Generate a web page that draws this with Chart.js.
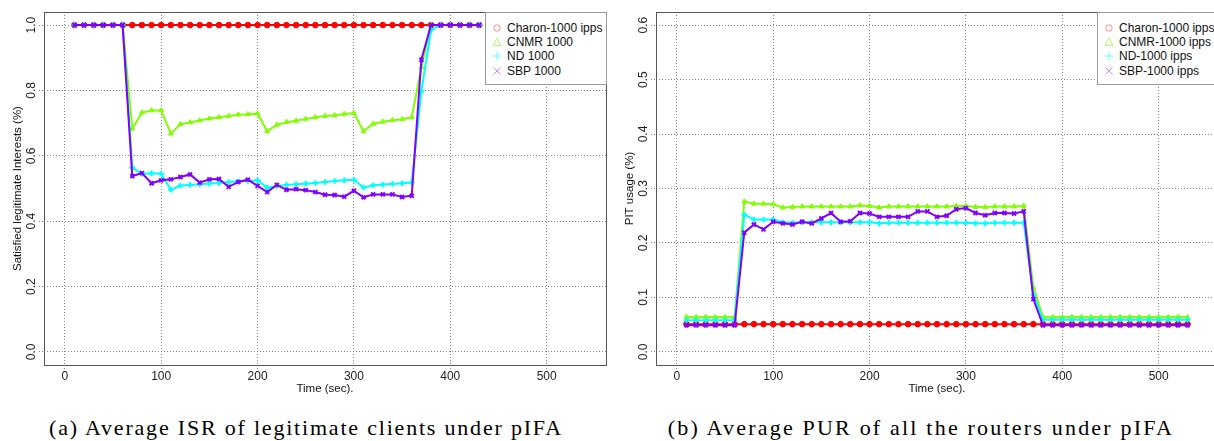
<!DOCTYPE html>
<html lang="en">

<head>
    <meta charset="UTF-8">
    <title>ISR and PUR under pIFA</title>
    <script src="https://cdn.jsdelivr.net/npm/chart.js"></script>
    <style>
        body {
            margin: 0;
            width: 1214px;
            height: 441px;
            overflow: hidden;
            background: #fff;
            position: relative;
            font-family: "Liberation Sans", Arial, sans-serif;
        }

        canvas {
            position: absolute;
            top: 0;
        }

        .legend {
            position: absolute;
            top: 12px;
            width: 122px;
            height: 73px;
            box-sizing: border-box;
            border: 1px solid #999;
            background: #fff;
            font-size: 12px;
            color: #111;
        }

        .legend .row {
            position: absolute;
            left: 0;
            height: 14px;
            line-height: 14px;
            white-space: nowrap;
        }

        .legend svg {
            position: absolute;
            left: 6px;
            top: 2px;
        }

        .legend span {
            position: absolute;
            left: 21px;
        }

        .caption {
            position: absolute;
            top: 417px;
            width: 612px;
            text-align: center;
            font-family: "Liberation Serif", "DejaVu Serif", serif;
            font-size: 22px;
            line-height: 22px;
            letter-spacing: 1.8px;
            color: #000;
        }
    </style>
</head>

<body>
    <canvas id="isr" width="607" height="400" style="left:0"></canvas>
    <canvas id="pur" width="607" height="400" style="left:612px"></canvas>

    <div class="legend" style="left:485px">
        <div class="row" style="top:8px"><svg width="10" height="10"><circle cx="5" cy="5" r="3.2" fill="none" stroke="rgba(255,0,0,0.45)" stroke-width="1"/></svg><span>Charon-1000 ipps</span></div>
        <div class="row" style="top:22px"><svg width="10" height="10"><polygon points="5,1 9,8.5 1,8.5" fill="none" stroke="rgba(128,255,0,0.6)" stroke-width="1"/></svg><span>CNMR 1000</span></div>
        <div class="row" style="top:36px"><svg width="10" height="10"><path d="M5 0.5V9.5M0.5 5H9.5" stroke="rgba(0,255,255,0.6)" stroke-width="1"/></svg><span>ND 1000</span></div>
        <div class="row" style="top:51px"><svg width="10" height="10"><path d="M1.5 1.5L8.5 8.5M8.5 1.5L1.5 8.5" stroke="rgba(128,0,255,0.45)" stroke-width="1"/></svg><span>SBP 1000</span></div>
    </div>

    <div class="legend" style="left:1097px">
        <div class="row" style="top:8px"><svg width="10" height="10"><circle cx="5" cy="5" r="3.2" fill="none" stroke="rgba(255,0,0,0.45)" stroke-width="1"/></svg><span>Charon-1000 ipps</span></div>
        <div class="row" style="top:22px"><svg width="10" height="10"><polygon points="5,1 9,8.5 1,8.5" fill="none" stroke="rgba(128,255,0,0.6)" stroke-width="1"/></svg><span>CNMR-1000 ipps</span></div>
        <div class="row" style="top:36px"><svg width="10" height="10"><path d="M5 0.5V9.5M0.5 5H9.5" stroke="rgba(0,255,255,0.6)" stroke-width="1"/></svg><span>ND-1000 ipps</span></div>
        <div class="row" style="top:51px"><svg width="10" height="10"><path d="M1.5 1.5L8.5 8.5M8.5 1.5L1.5 8.5" stroke="rgba(128,0,255,0.45)" stroke-width="1"/></svg><span>SBP-1000 ipps</span></div>
    </div>

    <div class="caption" style="left:0">(a) Average ISR of legitimate clients under pIFA</div>
    <div class="caption" style="left:615px; letter-spacing:2.2px">(b) Average PUR of all the routers under pIFA</div>

    <script>
        // time stamps (sec)
        const timesA = [10, 20, 30, 40, 50, 60, 70, 80, 90, 100, 110, 120, 130, 140, 150, 160, 170, 180, 190, 200,
            210, 220, 230, 240, 250, 260, 270, 280, 290, 300, 310, 320, 330, 340, 350, 360, 370, 380, 390, 400,
            410, 420, 430];
        const timesB = [10, 20, 30, 40, 50, 60, 70, 80, 90, 100, 110, 120, 130, 140, 150, 160, 170, 180, 190, 200,
            210, 220, 230, 240, 250, 260, 270, 280, 290, 300, 310, 320, 330, 340, 350, 360, 370, 380, 390, 400,
            410, 420, 430, 440, 450, 460, 470, 480, 490, 500, 510, 520, 530];

        const xTicks = [0, 100, 200, 300, 400, 500];
        const isrTicks = [0, 0.2, 0.4, 0.6, 0.8, 1.0];
        const purTicks = [0, 0.1, 0.2, 0.3, 0.4, 0.5, 0.6];

        const labelsA = ['Charon-1000 ipps', 'CNMR 1000', 'ND 1000', 'SBP 1000'];
        const labelsB = ['Charon-1000 ipps', 'CNMR-1000 ipps', 'ND-1000 ipps', 'SBP-1000 ipps'];

        // (a) satisfied legitimate interests
        const isrCharon = [1, 1, 1, 1, 1, 1, 1, 1, 1, 1, 1, 1, 1, 1, 1, 1, 1, 1, 1, 1, 1, 1, 1, 1, 1, 1, 1, 1, 1, 1,
            1, 1, 1, 1, 1, 1, 1, 1, 1, 1, 1, 1, 1];
        const isrCNMR = [1, 1, 1, 1, 1, 1,
            0.683, 0.732, 0.739, 0.739, 0.668, 0.697, 0.702, 0.708, 0.714, 0.718, 0.722, 0.726, 0.727, 0.729,
            0.675, 0.695, 0.703, 0.707, 0.713, 0.718, 0.722, 0.724, 0.728, 0.731,
            0.675, 0.698, 0.704, 0.709, 0.712, 0.718, 0.871,
            1, 1, 1, 1, 1, 1];
        const isrND = [1, 1, 1, 1, 1, 1,
            0.564, 0.545, 0.547, 0.545, 0.496, 0.509, 0.511, 0.513, 0.515, 0.517, 0.520, 0.522, 0.523, 0.525,
            0.502, 0.508, 0.511, 0.513, 0.515, 0.517, 0.520, 0.523, 0.525, 0.527,
            0.503, 0.510, 0.512, 0.514, 0.516, 0.518, 0.797,
            0.985, 1, 1, 1, 1, 1];
        const isrSBP = [1, 1, 1, 1, 1, 1,
            0.538, 0.547, 0.516, 0.525, 0.528, 0.535, 0.543, 0.518, 0.528, 0.529, 0.505, 0.520, 0.527, 0.508,
            0.489, 0.511, 0.496, 0.498, 0.495, 0.489, 0.481, 0.480, 0.475, 0.493,
            0.473, 0.482, 0.482, 0.482, 0.474, 0.478, 0.894,
            1, 1, 1, 1, 1, 1];

        // (b) PIT usage of routers
        const purCharon = [0.051, 0.051, 0.051, 0.051, 0.051, 0.051, 0.051, 0.051, 0.051, 0.051, 0.051, 0.051,
            0.051, 0.051, 0.051, 0.051, 0.051, 0.051, 0.051, 0.051, 0.051, 0.051, 0.051, 0.051, 0.051, 0.051,
            0.051, 0.051, 0.051, 0.051, 0.051, 0.051, 0.051, 0.051, 0.051, 0.051, 0.051, 0.051, 0.051, 0.051,
            0.051, 0.051, 0.051, 0.051, 0.051, 0.051, 0.051, 0.051, 0.051, 0.051, 0.051, 0.051, 0.051];
        const purCNMR = [0.064, 0.064, 0.064, 0.064, 0.064, 0.064,
            0.276, 0.272, 0.272, 0.271, 0.265, 0.266, 0.267, 0.267, 0.267, 0.267, 0.267, 0.267, 0.269, 0.268,
            0.265, 0.267, 0.267, 0.267, 0.267, 0.267, 0.267, 0.267, 0.268, 0.268,
            0.266, 0.266, 0.267, 0.267, 0.267, 0.268, 0.118,
            0.064, 0.064, 0.064, 0.064, 0.064, 0.064, 0.064, 0.064, 0.064, 0.064, 0.064, 0.064, 0.064, 0.064,
            0.064, 0.064];
        const purND = [0.058, 0.058, 0.058, 0.058, 0.058, 0.058,
            0.252, 0.243, 0.243, 0.243, 0.238, 0.237, 0.238, 0.238, 0.238, 0.238, 0.238, 0.238, 0.238, 0.238,
            0.236, 0.237, 0.237, 0.237, 0.237, 0.237, 0.237, 0.237, 0.237, 0.237,
            0.236, 0.236, 0.237, 0.237, 0.237, 0.237, 0.105,
            0.059, 0.059, 0.059, 0.059, 0.059, 0.059, 0.059, 0.059, 0.059, 0.059, 0.059, 0.059, 0.059, 0.059,
            0.059, 0.059];
        const purSBP = [0.049, 0.049, 0.049, 0.049, 0.049, 0.049,
            0.219, 0.234, 0.225, 0.239, 0.236, 0.234, 0.239, 0.236, 0.245, 0.255, 0.239, 0.240, 0.255, 0.254,
            0.248, 0.248, 0.248, 0.248, 0.258, 0.258, 0.248, 0.250, 0.262, 0.264,
            0.255, 0.251, 0.255, 0.255, 0.254, 0.258, 0.097,
            0.049, 0.049, 0.049, 0.049, 0.049, 0.049, 0.049, 0.049, 0.049, 0.049, 0.049, 0.049, 0.049, 0.049,
            0.049, 0.049];

        const colors = ['#FF0000', '#80FF00', '#00FFFF', '#8000FF'];
        const styles = ['circle', 'triangle', 'cross', 'crossRot'];

        Chart.defaults.font.family = '"Liberation Sans", Arial, sans-serif';
        Chart.defaults.color = '#222';

        // full box round the plot + rotated y tick labels (like R)
        const rBox = {
            id: 'rBox',
            afterDraw(chart) {
                const { ctx, chartArea: a, scales: { y } } = chart;
                ctx.save();
                ctx.strokeStyle = '#555';
                ctx.lineWidth = 1;
                ctx.strokeRect(Math.round(a.left) + 0.5, Math.round(a.top) + 0.5,
                    Math.round(a.right - a.left), Math.round(a.bottom - a.top));
                ctx.fillStyle = '#222';
                ctx.font = '12px "Liberation Sans", Arial, sans-serif';
                ctx.textAlign = 'center';
                ctx.textBaseline = 'middle';
                y.ticks.forEach(t => {
                    ctx.save();
                    ctx.translate(a.left - 12, y.getPixelForValue(t.value));
                    ctx.rotate(-Math.PI / 2);
                    ctx.fillText(t.value.toFixed(1), 0, 0);
                    ctx.restore();
                });
                ctx.restore();
            }
        };

        function makeChart(id, times, series, labels, yTicks, yMax, yTitle) {
            const span = yMax * 0.04;
            return new Chart(document.getElementById(id), {
                type: 'line',
                data: {
                    labels: times,
                    datasets: series.map((s, i) => ({
                        label: labels[i],
                        data: s.map((v, j) => ({ x: times[j], y: v })),
                        borderColor: colors[i],
                        backgroundColor: colors[i],
                        borderWidth: 2,
                        pointStyle: styles[i],
                        pointRadius: 2.8,
                        pointBorderWidth: i >= 2 ? 2 : 1,
                        order: series.length - i
                    }))
                },
                options: {
                    responsive: false,
                    animation: false,
                    devicePixelRatio: 1,
                    layout: {
                        autoPadding: false,
                        padding: { top: 12, right: 1, left: 0, bottom: 0 }
                    },
                    plugins: {
                        legend: { display: false },
                        tooltip: { enabled: false }
                    },
                    scales: {
                        x: {
                            type: 'linear',
                            min: -21.6,
                            max: 561.6,
                            afterBuildTicks: s => { s.ticks = xTicks.map(v => ({ value: v })); },
                            afterFit: s => { s.height = 35; s.paddingLeft = 0; s.paddingRight = 0; },
                            ticks: { font: { size: 12 }, padding: 0, maxRotation: 0 },
                            grid: { color: '#888', tickLength: 4, tickColor: '#888', tickBorderDash: [1, 2] },
                            border: { display: false, dash: [1, 2] },
                            title: { display: true, text: 'Time (sec).', font: { size: 11.5 }, color: '#111', padding: { top: 0, bottom: 4 } }
                        },
                        y: {
                            min: -span,
                            max: yMax + span,
                            afterBuildTicks: s => { s.ticks = yTicks.map(v => ({ value: v })); },
                            afterFit: s => { s.width = 44; s.paddingTop = 0; s.paddingBottom = 0; },
                            ticks: { display: false },
                            grid: { color: '#888', tickLength: 5, tickColor: '#888', tickBorderDash: [1, 2] },
                            border: { display: false, dash: [1, 2] },
                            title: { display: true, text: yTitle, font: { size: 11.5 }, color: '#111', padding: { top: 11, bottom: 0 } }
                        }
                    }
                },
                plugins: [rBox]
            });
        }

        makeChart('isr', timesA, [isrCharon, isrCNMR, isrND, isrSBP], labelsA, isrTicks, 1.0,
            'Satisfied legitimate Interests (%)');
        makeChart('pur', timesB, [purCharon, purCNMR, purND, purSBP], labelsB, purTicks, 0.6,
            'PIT usage (%)');
    </script>
</body>

</html>
